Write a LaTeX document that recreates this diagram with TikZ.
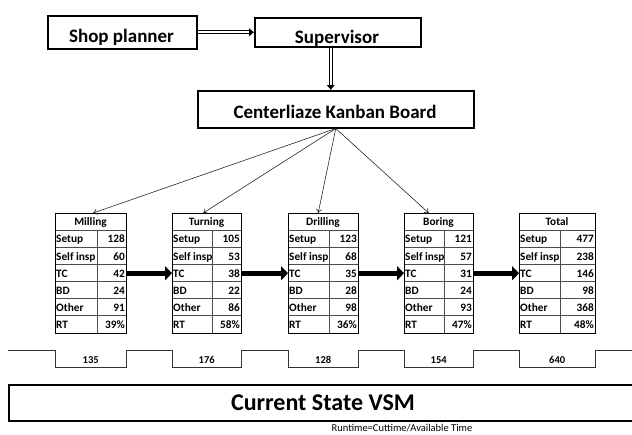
\documentclass[tikz,border=0pt]{standalone}
\usepackage{fontspec}
\setmainfont{Carlito}
\usetikzlibrary{arrows.meta,calc}

% one data table: name, left x, right x, column divider x, title, rows label/value
\newcommand\vsmtable[6]{%
  \node[tablebox, minimum width={#3-#2}] (#1) at (#2,213) {};
  \node[cellfont] (#1-head) at ({(#2+#3)/2},{213+12.8}) [anchor=base] {#5};
  \foreach \lab/\val [count=\r] in {#6} {
    \draw[rowline] (#2,{213+17.14*\r}) -- (#3,{213+17.14*\r});
    \node[cellfont, anchor=base west] (#1-l\r) at ({#2+1},{213+17.14*\r+12.8}) {\lab};
    \node[cellfont, anchor=base east] (#1-v\r) at ({#3-1},{213+17.14*\r+12.8}) {\val};
  }
  \draw[rowline] (#4,{213+17.14}) -- (#4,333);
  \draw[line width=0.9pt] (#1.north west) rectangle (#1.south east);
}

\begin{document}
\begin{tikzpicture}[x=1pt,y=-1pt,
  every node/.style={font=\bfseries},
  titlebox/.style={draw, line width=1.5pt, inner sep=0pt, anchor=north west},
  tablebox/.style={inner sep=0pt, anchor=north west, minimum height=120pt},
  rowline/.style={line width=0.7pt, draw=black!70},
  cellfont/.style={inner sep=0pt, font=\fontsize{11.3}{11.3}\selectfont\bfseries},
  bigfont/.style={inner sep=0pt, anchor=base, font=\fontsize{19}{19}\selectfont\bfseries},
  dblarrow/.style={double, double distance=2.4pt, line width=0.8pt, -{Latex[length=5pt,width=9pt]}},
  feed/.style={line width=0.55pt, draw=black!90, -{To[length=4pt,width=6pt]}},
  flow/.style={line width=5pt, -{Triangle[length=7pt,width=14pt]}},
  timeline/.style={line width=0.8pt, draw=black!80},
  lead/.style={inner sep=0pt, font=\fontsize{10.5}{10.5}\selectfont\bfseries},
]
\useasboundingbox (0,0) rectangle (632,434);

% management chain
\node[titlebox, minimum width=149pt, minimum height=33pt] (shop) at (47,15) {};
\node[bigfont] (shoptxt) at (121.5,42) {Shop planner};
\node[titlebox, minimum width=166pt, minimum height=29pt] (sup) at (254,17) {};
\node[bigfont] (suptxt) at (337,43.5) {Supervisor};
\node[titlebox, minimum width=276pt, minimum height=37pt] (kanban) at (197,90) {};
\node[bigfont] (kantxt) at (335,118.5) {Centerliaze Kanban Board};

\draw[dblarrow] (shop.east) -- (sup.west |- shop.east);
\coordinate (supout) at ([xshift=-7pt]sup.south);
\draw[dblarrow] (supout) -- (supout |- kanban.north);

% process tables
\vsmtable{mill}{55}{126}{97}{Milling}{Setup/128, Self insp/60, TC/42, BD/24, Other/91, RT/39\%}
\vsmtable{turn}{172}{241}{212}{Turning}{Setup/105, Self insp/53, TC/38, BD/22, Other/86, RT/58\%}
\vsmtable{drill}{288}{358}{329}{Drilling}{Setup/123, Self insp/68, TC/35, BD/28, Other/98, RT/36\%}
\vsmtable{bore}{404}{473}{444}{Boring}{Setup/121, Self insp/57, TC/31, BD/24, Other/93, RT/47\%}
\vsmtable{total}{519}{595}{560}{Total}{Setup/477, Self insp/238, TC/146, BD/98, Other/368, RT/48\%}

% kanban signals
\draw[feed] (kanban.south) -- ([xshift=2.5pt]mill.north);
\draw[feed] (kanban.south) -- ([xshift=-3.5pt]turn.north);
\draw[feed] (kanban.south) -- ([xshift=-5pt]drill.north);
\draw[feed] (kanban.south) -- ([xshift=-10pt]bore.north);

% material flow
\draw[flow] (mill.east) -- (turn.west);
\draw[flow] (turn.east) -- (drill.west);
\draw[flow] (drill.east) -- (bore.west);
\draw[flow] (bore.east) -- (total.west);

% timeline
\draw[timeline] (8,350) -- (55,350) -- (55,367) -- (126,367) -- (126,350)
  -- (172,350) -- (172,367) -- (241,367) -- (241,350)
  -- (288,350) -- (288,367) -- (358,367) -- (358,350)
  -- (404,350) -- (404,367) -- (473,367) -- (473,350)
  -- (519,350) -- (519,367) -- (595,367) -- (595,350) -- (640,350);
\node[lead, anchor=base] (t1) at (mill |- 0,363) {135};
\node[lead, anchor=base] (t2) at (turn |- 0,363) {176};
\node[lead, anchor=base] (t3) at (drill |- 0,363) {128};
\node[lead, anchor=base] (t4) at (bore |- 0,363) {154};
\node[lead, anchor=base] (t5) at (total |- 0,363) {640};

% caption
\node[titlebox, minimum width=640pt, minimum height=36pt] (vsm) at (8,384) {};
\node[inner sep=0pt, anchor=base, font=\fontsize{24}{24}\selectfont\bfseries] (vsmtxt) at (323,410.5) {Current State VSM};
\node[inner sep=0pt, anchor=base, font=\fontsize{10.5}{10.5}\selectfont\mdseries] (note) at (402,431.5) {Runtime=Cuttime/Available Time};
\end{tikzpicture}
\end{document}
